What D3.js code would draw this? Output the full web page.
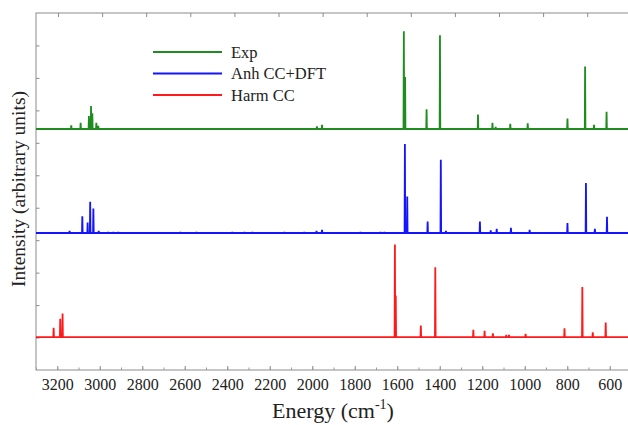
<!DOCTYPE html>
<html>
<head>
<meta charset="utf-8">
<script src="https://cdn.jsdelivr.net/npm/d3@7"></script>
<style>
  body { margin: 0; background: #fff; }
</style>
</head>
<body>
<div id="chart"></div>
<script>
// peaks as [energy cm-1, intensity (% of one panel)]
var expPeaks = [
  [3134, 3.5], [3090, 6], [3051, 12.5], [3041, 22], [3035, 15], [3016, 6], [3007, 3],
  [1978, 2.5], [1954, 4],
  [1569, 94], [1563, 50], [1462, 19], [1399, 90], [1220, 14], [1152, 6], [1137, 2],
  [1068, 5], [986, 5.5], [799, 10], [716, 60], [674, 4], [615, 16.5]
];
var anhPeaks = [
  [3142, 2], [3082, 16], [3057, 10], [3045, 30], [3030, 23.5], [3005, 2],
  [2960, 1], [2936, 1], [2913, 1],
  [2621, 0.8], [2545, 0.8], [2376, 0.8], [2319, 0.8], [2282, 0.8], [2131, 0.8], [2037, 0.8],
  [1980, 2], [1954, 3], [1773, 0.8], [1679, 1], [1660, 1],
  [1564, 85.5], [1553, 35], [1457, 11], [1395, 70.5], [1371, 2], [1211, 11], [1160, 2.5],
  [1132, 4], [1065, 5], [977, 3], [799, 9.5], [712, 48], [670, 4], [613, 15.5]
];
var harmPeaks = [
  [3217, 9], [3186, 17.5], [3175, 22.5],
  [1611, 89], [1607, 40], [1489, 11], [1421, 67], [1242, 7], [1189, 6], [1150, 3.5],
  [1087, 2], [1074, 2], [996, 3], [813, 8.5], [729, 48], [680, 4.5], [619, 14]
];

var seriesNames = ["Exp", "Anh CC+DFT", "Harm CC"];
var seriesColors = ["#1e8c1e", "#1414ff", "#ff1a1a"];
var seriesOffsets = [2, 1, 0];
var xTickLabels = [3200, 3000, 2800, 2600, 2400, 2200, 2000, 1800, 1600, 1400, 1200, 1000, 800, 600];

var serif = "Liberation Serif";
var svgWidth = 628;
var svgHeight = 425;
var frame = { left: 36, top: 13, right: 631, bottom: 370 };

var svg = d3.select("#chart")
  .append("svg")
  .attr("width", svgWidth)
  .attr("height", svgHeight);

var x = d3.scaleLinear()
  .domain([3300, 500])
  .range([frame.left, frame.right]);

// one unit = one panel
var y = d3.scaleLinear()
  .domain([-0.317, 3.115])
  .range([frame.bottom, frame.top]);

// frame
svg.append("rect")
  .attr("x", frame.left)
  .attr("y", frame.top)
  .attr("width", frame.right - frame.left)
  .attr("height", frame.bottom - frame.top)
  .attr("fill", "none")
  .attr("stroke", "#8c8c8c")
  .attr("stroke-width", 1);

// bottom axis, ticks inside
var xAxis = d3.axisBottom(x)
  .tickValues(xTickLabels)
  .tickSizeInner(-4)
  .tickSizeOuter(0)
  .tickPadding(9)
  .tickFormat(d3.format("d"));

var gx = svg.append("g")
  .attr("transform", `translate(0, ${frame.bottom})`)
  .call(xAxis)
  .attr("font-family", serif)
  .attr("font-size", 16);
gx.select(".domain").remove();
gx.selectAll(".tick line").attr("stroke", "#8c8c8c");
gx.selectAll(".tick text").attr("fill", "#222");

var minorBottom = svg.append("g")
  .attr("transform", `translate(0, ${frame.bottom})`)
  .call(d3.axisBottom(x).tickValues(d3.range(3300, 499, -100)).tickSize(-2.5).tickFormat(""));
minorBottom.select(".domain").remove();
minorBottom.selectAll("line").attr("stroke", "#9a9a9a");

// top ticks (own spacing in the original figure)
var topScale = d3.scaleLinear().domain([0, 13]).range([58, 58 + 13 * 44.1]);
var gTop = svg.append("g")
  .attr("transform", `translate(0, ${frame.top})`)
  .call(d3.axisTop(topScale).tickValues(d3.range(0, 14)).tickSize(-4).tickFormat(""));
gTop.select(".domain").remove();
gTop.selectAll("line").attr("stroke", "#8c8c8c");

// left ticks, no labels
var leftScale = d3.scaleLinear().domain([0, 11]).range([frame.bottom, frame.top]);
var gLeft = svg.append("g")
  .attr("transform", `translate(${frame.left}, 0)`)
  .call(d3.axisLeft(leftScale).tickValues(d3.range(1, 11)).tickSize(-3.5).tickFormat(""));
gLeft.select(".domain").remove();
gLeft.selectAll("line").attr("stroke", "#8c8c8c");

// spectra
var halfWidth = 1.5;
function spectrumPoints(peaks) {
  var pts = [[3300, 0]];
  peaks.slice().sort((a, b) => b[0] - a[0]).forEach(p => {
    pts.push([p[0] + halfWidth, 0]);
    pts.push([p[0], p[1]]);
    pts.push([p[0] - halfWidth, 0]);
  });
  pts.push([500, 0]);
  return pts;
}

var allPeaks = [expPeaks, anhPeaks, harmPeaks];

allPeaks.forEach((peaks, i) => {
  var line = d3.line()
    .x(d => x(d[0]))
    .y(d => y(seriesOffsets[i] + d[1] / 100));
  svg.append("path")
    .datum(spectrumPoints(peaks))
    .attr("d", line)
    .attr("fill", "none")
    .attr("stroke", seriesColors[i])
    .attr("stroke-width", 1.8)
    .attr("stroke-linejoin", "bevel");
});

// legend
var legend = svg.append("g").attr("transform", "translate(153, 52)");
seriesNames.forEach((name, i) => {
  legend.append("line")
    .attr("x1", 0).attr("x2", 69)
    .attr("y1", i * 21.5).attr("y2", i * 21.5)
    .attr("stroke", seriesColors[i])
    .attr("stroke-width", 2.2);
  legend.append("text")
    .attr("x", 78)
    .attr("y", i * 21.5 + 5.5)
    .attr("font-family", serif)
    .attr("font-size", 16.5)
    .attr("fill", "#222")
    .text(name);
});

// axis titles
var xTitle = svg.append("text")
  .attr("x", 333)
  .attr("y", 418)
  .attr("text-anchor", "middle")
  .attr("font-family", serif)
  .attr("font-size", 22)
  .attr("fill", "#222");
xTitle.append("tspan").text("Energy (cm");
xTitle.append("tspan").attr("dy", -9).attr("font-size", 14).text("-1");
xTitle.append("tspan").attr("dy", 9).text(")");

svg.append("text")
  .attr("transform", "rotate(-90)")
  .attr("x", -189)
  .attr("y", 25)
  .attr("text-anchor", "middle")
  .attr("font-family", serif)
  .attr("font-size", 19.5)
  .attr("fill", "#222")
  .text("Intensity (arbitrary units)");
</script>
</body>
</html>
